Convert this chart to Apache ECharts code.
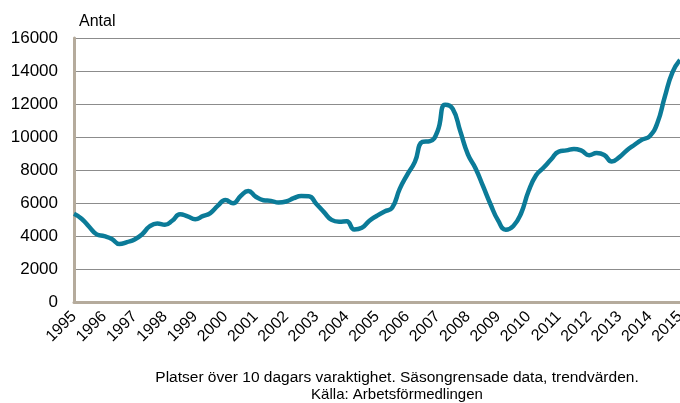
<!DOCTYPE html>
<html>
<head>
<meta charset="utf-8">
<script src="https://cdn.jsdelivr.net/npm/echarts@6/dist/echarts.min.js"></script>
<style>
  html, body { margin: 0; padding: 0; background: #fff; }
  #chart { width: 680px; height: 403px; }
</style>
</head>
<body>
<div id="chart"></div>
<script>
// quarterly trend values, 1995 Q1 .. 2015 Q1
const startYear = 1995
const endYear = 2015
const quarterlyValues = [
  5350, 5050, 4560, 4100, 3990, 3820, 3510, 3630,
  3790, 4110, 4590, 4760, 4680, 4940, 5320, 5190,
  5020, 5200, 5390, 5840, 6180, 5980, 6420, 6730,
  6380, 6170, 6130, 6030, 6090, 6290, 6420, 6410,
  5940, 5450, 4980, 4870, 4890, 4400, 4500, 4930,
  5230, 5490, 5710, 6860, 7720, 8490, 9700, 9750,
  10360, 11950, 11700, 10340, 8950, 8110, 7020, 5910,
  4930, 4380, 4610, 5350, 6710, 7680, 8150, 8650,
  9120, 9190, 9280, 9170, 8900, 9030, 8910, 8510,
  8780, 9200, 9530, 9840, 10050, 10830, 12450, 13920,
  14670
]
const yTicks = [0, 2000, 4000, 6000, 8000, 10000, 12000, 14000, 16000]
const footnote = [
  'Platser över 10 dagars varaktighet. Säsongrensade data, trendvärden.',
  'Källa: Arbetsförmedlingen'
]

let chart = echarts.init(document.getElementById('chart'))
let seriesData = quarterlyValues.map((v, i) => [startYear + i / 4, v])
const font = 'Liberation Sans, Arial, sans-serif'

chart.setOption({
  animation: false,
  textStyle: { fontFamily: font },
  title: {
    text: 'Antal',
    left: 74,
    top: 9,
    textStyle: { fontSize: 16, fontWeight: 'normal', color: '#000' }
  },
  grid: { left: 74, right: 0, top: 38, bottom: 101, containLabel: false, outerBoundsMode: 'none' },
  xAxis: {
    type: 'value',
    min: startYear,
    max: endYear,
    interval: 1,
    axisLine: { show: true, onZero: false, lineStyle: { color: '#b5ab9c', width: 3 } },
    axisTick: { show: false },
    splitLine: { show: false },
    axisLabel: {
      rotate: 45,
      fontSize: 16,
      color: '#000',
      margin: 12,
      formatter: v => String(Math.round(v))
    }
  },
  yAxis: {
    type: 'value',
    min: yTicks[0],
    max: yTicks[yTicks.length - 1],
    interval: 2000,
    axisLine: { show: true, lineStyle: { color: '#b5ab9c', width: 3 } },
    axisTick: { show: false },
    splitLine: { lineStyle: { color: '#8c8c8c', width: 1 } },
    axisLabel: { fontSize: 17, color: '#000', margin: 16, formatter: v => String(v) }
  },
  graphic: [
    {
      type: 'text', x: 397, y: 370,
      style: { text: footnote[0], fill: '#000', align: 'center', font: '15.5px ' + font }
    },
    {
      type: 'text', x: 397, y: 387,
      style: { text: footnote[1], fill: '#000', align: 'center', font: '15px ' + font }
    }
  ],
  series: [{
    type: 'line',
    data: seriesData,
    smooth: 0.5,
    showSymbol: false,
    lineStyle: { color: '#0b7b98', width: 4.5 },
    z: 3
  }]
})
</script>
</body>
</html>
